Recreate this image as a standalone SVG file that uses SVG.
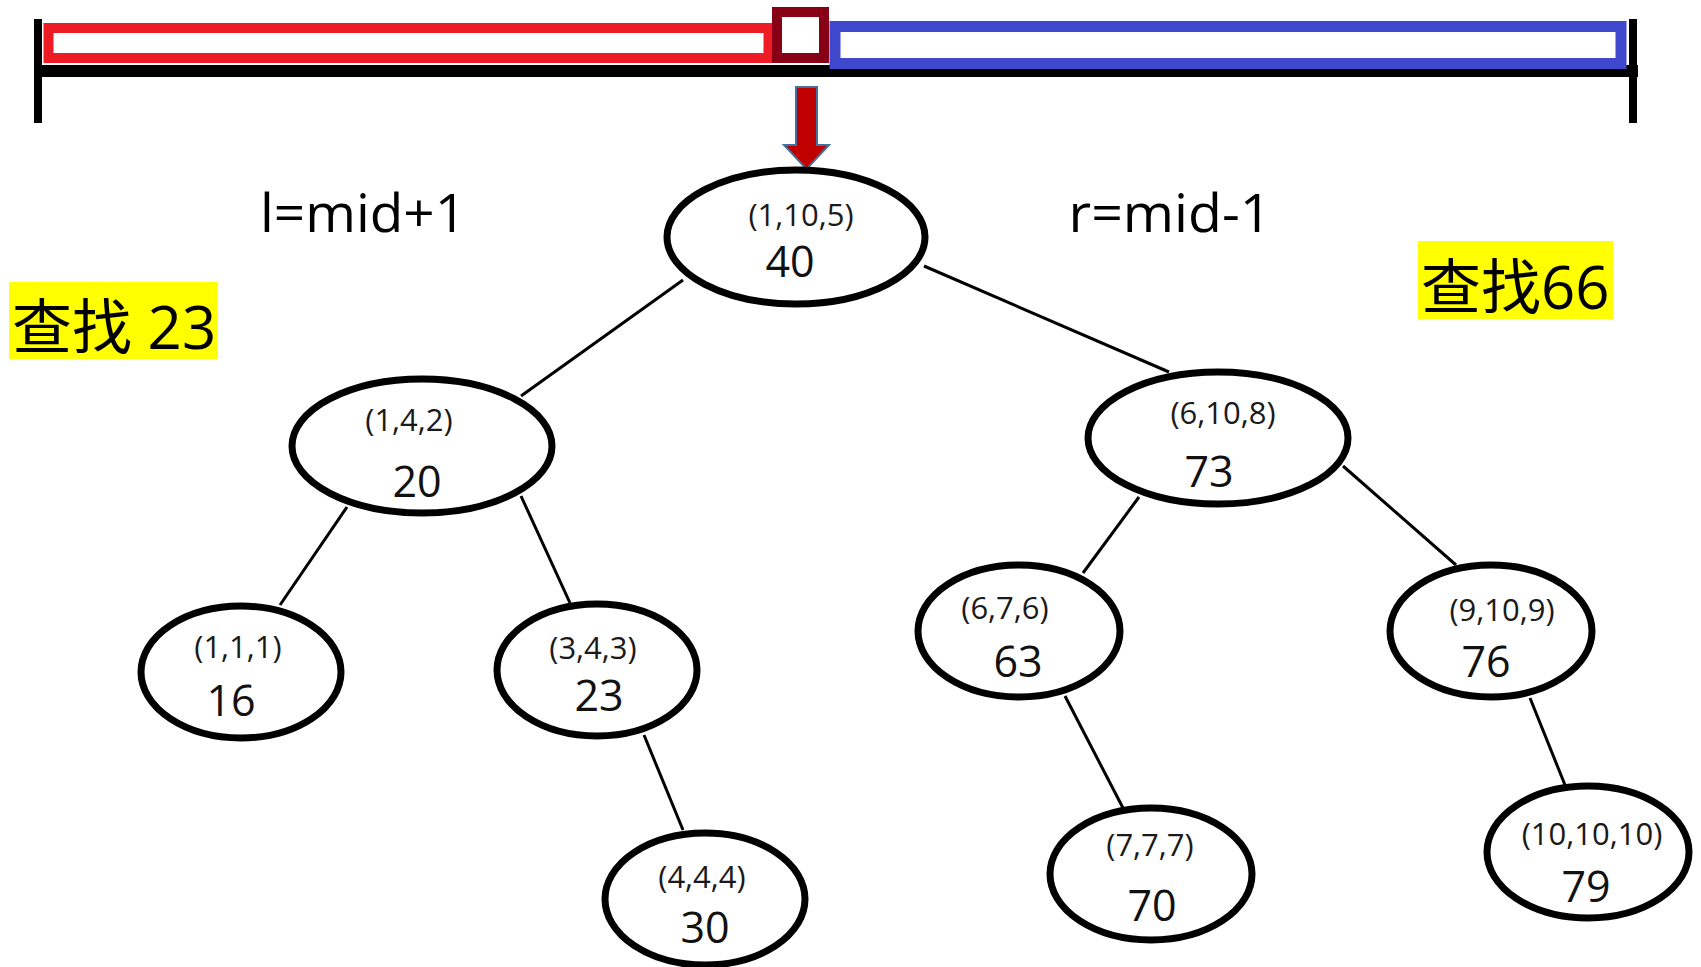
<svg xmlns="http://www.w3.org/2000/svg" width="1701" height="967" viewBox="0 0 1701 967">
<style>
.nd{fill:#fff;stroke:#000;stroke-width:7}
.lb{font-family:"Open Sans","Noto Sans",sans-serif;font-size:31px;fill:#1a1a1a;text-anchor:middle}
.vl{font-family:"Open Sans","Noto Sans",sans-serif;font-size:43px;fill:#111;text-anchor:middle}
.ed{stroke:#000;stroke-width:3;fill:none}
.big{font-family:"Open Sans","Noto Sans",sans-serif;font-size:53px;fill:#000;text-anchor:middle}
.cj{font-family:"Open Sans","Noto Sans CJK SC",sans-serif;font-size:60px;fill:#000}
</style>
<rect width="1701" height="967" fill="#fff"/>
<g id="range">
<rect x="34" y="65" width="1604" height="12" fill="#000"/>
<rect x="34" y="19" width="8" height="104" fill="#000"/>
<rect x="1629" y="19" width="8" height="104" fill="#000"/>
<rect x="48.5" y="28" width="720" height="30" fill="none" stroke="#ED1C24" stroke-width="10"/>
<rect x="835" y="26.5" width="786" height="37" fill="none" stroke="#3F48CC" stroke-width="11"/>
<rect x="777" y="12" width="47" height="46" fill="#fff" stroke="#880015" stroke-width="10"/>
<polygon points="796,87 817,87 817,145 829,145 806.5,169 784,145 796,145" fill="#C00000" stroke="#41719C" stroke-width="2"/>
</g>
<g id="labels">
<text class="big" x="363" y="232" textLength="206" lengthAdjust="spacingAndGlyphs">l=mid+1</text>
<text class="big" x="1170" y="232" textLength="203" lengthAdjust="spacingAndGlyphs">r=mid-1</text>
<rect x="9" y="282" width="209" height="77" fill="#FFFF00"/>
<text class="cj" x="12" y="349">查找 23</text>
<rect x="1418" y="241" width="195" height="78" fill="#FFFF00"/>
<text class="cj" x="1421" y="309">查找66</text>
</g>
<g id="connectors">
<line class="ed" x1="683" y1="280" x2="521" y2="396"/>
<line class="ed" x1="924" y1="266" x2="1169" y2="372"/>
<line class="ed" x1="347" y1="507" x2="280" y2="605"/>
<line class="ed" x1="521" y1="496" x2="570" y2="603"/>
<line class="ed" x1="644" y1="735" x2="683" y2="830"/>
<line class="ed" x1="1139" y1="497" x2="1083" y2="573"/>
<line class="ed" x1="1343" y1="466" x2="1456" y2="565"/>
<line class="ed" x1="1065" y1="696" x2="1123" y2="808"/>
<line class="ed" x1="1530" y1="698" x2="1565" y2="785"/>
</g>
<g id="n40"><ellipse class="nd" cx="796" cy="237" rx="129" ry="67"/><text class="lb" x="801" y="226">(1,10,5)</text><text class="vl" x="790" y="277">40</text></g>
<g id="n20"><ellipse class="nd" cx="422" cy="446" rx="130" ry="67"/><text class="lb" x="409" y="431">(1,4,2)</text><text class="vl" x="417" y="497">20</text></g>
<g id="n73"><ellipse class="nd" cx="1218" cy="438" rx="130" ry="66"/><text class="lb" x="1223" y="424">(6,10,8)</text><text class="vl" x="1209" y="487">73</text></g>
<g id="n16"><ellipse class="nd" cx="241" cy="672" rx="100" ry="66"/><text class="lb" x="238" y="658">(1,1,1)</text><text class="vl" x="231" y="716">16</text></g>
<g id="n23"><ellipse class="nd" cx="597" cy="670" rx="100" ry="66"/><text class="lb" x="593" y="659">(3,4,3)</text><text class="vl" x="599" y="711">23</text></g>
<g id="n30"><ellipse class="nd" cx="705" cy="899" rx="100" ry="66"/><text class="lb" x="702" y="888">(4,4,4)</text><text class="vl" x="705" y="943">30</text></g>
<g id="n63"><ellipse class="nd" cx="1019" cy="631" rx="101" ry="66"/><text class="lb" x="1005" y="619">(6,7,6)</text><text class="vl" x="1018" y="677">63</text></g>
<g id="n76"><ellipse class="nd" cx="1491" cy="631" rx="101" ry="66"/><text class="lb" x="1502" y="621">(9,10,9)</text><text class="vl" x="1486" y="677">76</text></g>
<g id="n70"><ellipse class="nd" cx="1151" cy="874" rx="101" ry="66"/><text class="lb" x="1150" y="856">(7,7,7)</text><text class="vl" x="1152" y="921">70</text></g>
<g id="n79"><ellipse class="nd" cx="1588" cy="852" rx="101" ry="66"/><text class="lb" x="1592" y="845">(10,10,10)</text><text class="vl" x="1586" y="902">79</text></g>
</svg>
